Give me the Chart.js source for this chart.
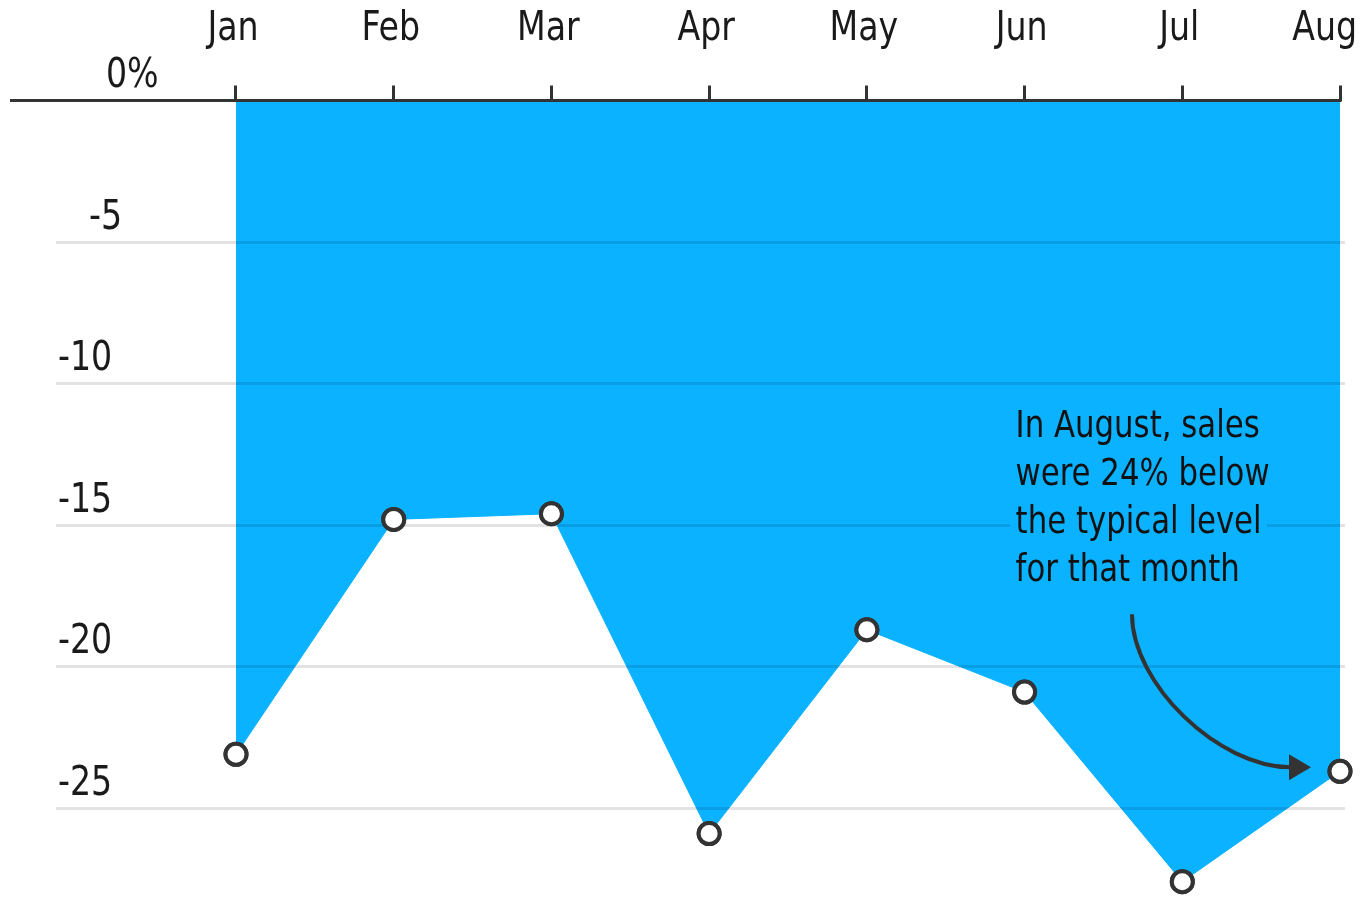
<!DOCTYPE html>
<html><head><meta charset="utf-8">
<script src="https://cdn.jsdelivr.net/npm/chart.js@4.4.1/dist/chart.umd.min.js"></script>
<style>html,body{margin:0;padding:0;background:#fff;overflow:hidden}#wrap{position:relative;width:1362px;height:897px}</style>
</head><body><div id="wrap"><canvas id="c" width="1362" height="897"></canvas></div>
<script>
const months = ['Jan','Feb','Mar','Apr','May','Jun','Jul','Aug'];
const salesVsTypical = [-23.1, -14.8, -14.6, -25.9, -18.7, -20.9, -27.6, -23.7];
const yTickValues = [0, -5, -10, -15, -20, -25];
const yTickLabels = ['0%', '-5', '-10', '-15', '-20', '-25'];
const annotationLines = ['In August, sales', 'were 24% below', 'the typical level', 'for that month'];

const FONT = "'DejaVu Sans Condensed', 'Liberation Sans Narrow', 'DejaVu Sans', sans-serif";
const BLUE = '#0BB2FF';
const INK = '#333333';
const TEXT = '#1a1a1a';

function squeezeText(ctx, text, x, y, sx, mode) {
  ctx.save();
  ctx.translate(x, y);
  ctx.scale(sx, 1);
  if (mode === 'stroke') ctx.strokeText(text, 0, 0); else ctx.fillText(text, 0, 0);
  ctx.restore();
}

const decor = {
  id: 'decor',
  afterDraw(chart) {
    const ctx = chart.ctx, xs = chart.scales.x, ys = chart.scales.y, ca = chart.chartArea;
    const last = months.length - 1;
    const y0 = ys.getPixelForValue(0);
    ctx.save();
    // zero line
    ctx.strokeStyle = INK; ctx.lineWidth = 3;
    ctx.beginPath(); ctx.moveTo(10, y0); ctx.lineTo(xs.getPixelForValue(last) + 1.5, y0); ctx.stroke();

    // month labels
    const SX = 0.9;
    ctx.font = '41px ' + FONT; ctx.fillStyle = TEXT; ctx.textBaseline = 'alphabetic'; ctx.textAlign = 'center';
    months.forEach((m, i) => {
      const w = ctx.measureText(m).width * SX;
      let x = xs.getPixelForValue(i) - 3;
      if (x + w / 2 > chart.width - 5) x = chart.width - 5 - w / 2;
      squeezeText(ctx, m, x, 40, SX);
    });

    // y labels
    ctx.textAlign = 'left';
    const indent = {'0%': 48, '-5': 31};
    yTickValues.forEach((v, i) => {
      const lab = yTickLabels[i];
      squeezeText(ctx, lab, ca.left + 2 + (indent[lab] || 0), ys.getPixelForValue(v) - 13.5, SX);
    });

    // annotation text with halo
    const AX = 0.925;
    const tx = xs.getPixelForValue(5) - 9;
    const ty = ys.getPixelForValue(-15);
    ctx.font = '37px ' + FONT;
    ctx.lineJoin = 'round';
    ctx.strokeStyle = BLUE; ctx.lineWidth = 18;
    annotationLines.forEach((l, i) => squeezeText(ctx, l, tx, ty - 88 + 48 * i, AX, 'stroke'));
    ctx.fillStyle = '#111';
    annotationLines.forEach((l, i) => squeezeText(ctx, l, tx, ty - 88 + 48 * i, AX));

    // arrow pointing to Aug
    const ax = xs.getPixelForValue(last), ay = ys.getPixelForValue(salesVsTypical[last]);
    const sx = ax - 208, sy = ay - 157, ex = ax - 51, ey = ay - 4;
    ctx.strokeStyle = INK; ctx.lineWidth = 4; ctx.lineCap = 'butt';
    ctx.beginPath(); ctx.moveTo(sx, sy);
    ctx.bezierCurveTo(sx, sy + 69, ex - 71, ey, ex + 2, ey);
    ctx.stroke();
    ctx.fillStyle = INK;
    ctx.beginPath(); ctx.moveTo(ax - 29, ey); ctx.lineTo(ex, ey - 13); ctx.lineTo(ex, ey + 13); ctx.closePath(); ctx.fill();

    // points on top of grid
    chart.getDatasetMeta(0).data.forEach(p => p.draw(ctx));
    ctx.restore();
  }
};

new Chart(document.getElementById('c'), {
  type: 'line',
  data: {
    datasets: [{
      data: months.map((m, i) => ({x: i, y: salesVsTypical[i]})),
      fill: 'origin',
      backgroundColor: BLUE,
      borderColor: BLUE,
      borderWidth: 1,
      tension: 0,
      pointRadius: 10.5,
      pointBorderWidth: 4,
      pointBackgroundColor: '#ffffff',
      pointBorderColor: INK,
      clip: false
    }]
  },
  options: {
    responsive: false,
    animation: false,
    devicePixelRatio: 1,
    layout: {autoPadding: false, padding: {left: 56, right: 17, top: 0, bottom: 4}},
    plugins: {legend: {display: false}, tooltip: {enabled: false}},
    scales: {
      x: {
        type: 'linear', position: 'top', min: -1.1413, max: 7.0317,
        afterBuildTicks: s => { s.ticks = months.map((m, i) => ({value: i})); },
        afterFit: s => { s.height = 100.5; },
        ticks: {display: false},
        grid: {display: true, drawOnChartArea: false, drawTicks: true, tickLength: 15, color: INK, lineWidth: 3},
        border: {display: false}
      },
      y: {
        min: -28, max: 0,
        afterBuildTicks: s => { s.ticks = yTickValues.map(v => ({value: v})); },
        afterFit: s => { s.width = 0; },
        ticks: {display: false},
        grid: {z: 1, drawTicks: false, lineWidth: 3,
          color: c => (c.tick && c.tick.value === 0) ? 'rgba(0,0,0,0)' : 'rgba(0,0,0,0.11)'},
        border: {display: false}
      }
    }
  },
  plugins: [decor]
});
</script></body></html>
